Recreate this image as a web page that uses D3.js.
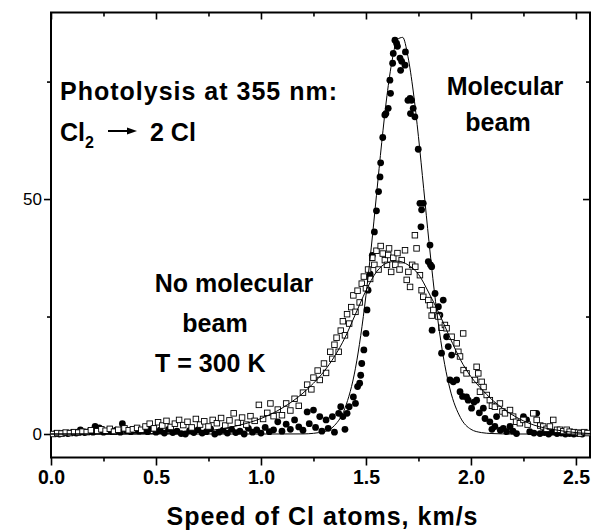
<!DOCTYPE html>
<html>
<head>
<meta charset="utf-8" />
<title>Speed of Cl atoms</title>
<script type="text/javascript" src="https://d3js.org/d3.v7.min.js"></script>
<style type="text/css">
    body { margin: 0; background: #fff; }
    text { font-family: "Liberation Sans", Arial, sans-serif; fill: #000; }
    .note { font-size: 25px; font-weight: bold; }
</style>
</head>
<body>
<svg width="597" height="531"></svg>
<script>
    var w = 597; // width
    var h = 531; // height
    var margin = {top: 12.5, right: 7, bottom: 73.5, left: 51};

    // molecular beam data (filled circles): speed km/s, signal
    var molX = [0.02,0.04,0.06,0.08,0.10,0.12,0.14,0.16,0.18,0.20,0.21,0.23,0.25,0.27,0.29,0.31,0.33,0.34,0.36,0.38,0.40,0.42,0.44,0.46,
        0.48,0.50,0.52,0.54,0.56,0.58,0.60,0.62,0.64,0.66,0.68,0.70,0.72,0.74,0.76,0.78,0.80,0.82,0.84,0.86,0.88,0.90,0.92,0.94,0.96,0.98,
        1.00,1.02,1.04,1.06,1.08,1.10,1.12,1.14,1.16,1.18,1.20,1.22,1.23,1.25,1.26,1.28,1.29,1.31,1.32,1.34,1.35,1.37,1.38,1.39,1.40,1.41,
        1.42,1.44,1.45,1.46,1.47,1.475,1.48,1.49,1.50,1.505,1.51,1.52,1.53,1.54,1.55,1.56,1.567,1.57,1.58,1.59,1.595,1.606,1.614,1.617,
        1.627,1.63,1.638,1.646,1.65,1.662,1.665,1.67,1.686,1.688,1.70,1.71,1.712,1.717,1.725,1.733,1.749,1.757,1.762,1.765,1.773,1.797,
        1.805,1.807,1.813,1.815,1.829,1.845,1.852,1.86,1.868,1.884,1.892,1.90,1.908,1.916,1.932,1.948,1.96,1.979,1.987,2.003,2.015,2.027,
        2.04,2.059,2.067,2.09,2.10,2.114,2.122,2.14,2.154,2.17,2.186,2.20,2.217,2.25,2.265,2.28,2.30,2.313,2.329,2.35,2.37,2.39,2.41,2.43,
        2.45,2.47,2.49,2.51,2.53];
    var molY = [0.1,0.0,0.2,0.1,0.3,0.2,0.9,0.3,0.5,0.4,1.6,1.3,0.4,0.6,0.5,0.8,0.4,2.2,0.7,0.5,0.9,0.6,0.8,0.5,
        1.2,0.4,0.8,0.2,1.0,0.3,0.6,0.1,0.0,0.7,0.3,0.9,0.2,0.5,1.1,0.0,0.4,0.8,0.2,1.0,0.3,0.6,0.0,1.2,0.4,0.9,
        0.2,1.4,0.5,0.9,2.6,0.6,2.1,1.0,3.0,1.5,0.8,4.7,2.2,5.1,1.4,3.7,0.6,3.0,1.2,3.7,0.4,4.4,5.8,3.7,1.0,4.4,
        5.8,7.9,6.5,10.1,10.8,12.5,15,17.9,21.4,26.4,30.6,34,38,43,47.5,51.6,54.7,57.7,63.1,67.9,68.2,69.3,75.3,72.5,
        78.9,81,83.8,83.1,82.5,80,77.4,79.3,78.5,81.3,71,71.4,68.2,71,69.3,67.5,60.6,49.1,44.1,47.7,49.1,36.7,
        40.2,36,35.6,22.1,29.9,27.1,25.3,17.2,28.5,20.7,18.6,11.5,16.8,11.1,11.5,9.0,8.0,7.9,7.2,5.5,6.8,7.2,
        4.5,5.5,3.3,2.6,1.0,1.6,3.7,0.8,1.2,0.5,1.6,0.6,0.1,3.7,3.0,0.5,0.2,4.4,0.1,0.3,0.0,0.4,0.1,0.2,
        0.0,0.1,0.0,0.1,0.0];

    // no molecular beam, T = 300 K (open squares)
    var thermX = [0.01,0.03,0.05,0.07,0.09,0.11,0.13,0.15,0.17,0.19,0.22,0.24,0.26,0.28,0.30,0.32,0.35,0.37,0.39,0.41,0.43,
        0.45,0.47,0.49,0.51,0.53,0.55,0.57,0.59,0.61,0.63,0.65,0.67,0.69,0.71,0.73,0.75,0.77,0.79,0.81,0.83,0.85,0.87,0.89,0.91,
        0.93,0.95,0.97,0.99,1.01,1.03,1.045,1.06,1.08,1.10,1.12,1.14,1.16,1.18,1.20,1.22,1.24,1.25,1.27,1.28,1.30,1.31,1.33,1.34,
        1.35,1.36,1.37,1.38,1.39,1.40,1.41,1.42,1.43,1.44,1.45,1.46,1.47,1.48,1.49,1.50,1.51,1.52,1.53,1.54,1.55,1.56,1.57,1.58,
        1.59,1.60,1.606,1.61,1.62,1.63,1.64,1.65,1.66,1.67,1.686,1.694,1.702,1.71,1.72,1.733,1.735,1.741,1.757,1.765,1.773,1.797,
        1.805,1.813,1.821,1.845,1.86,1.876,1.884,1.908,1.932,1.94,1.948,1.963,1.965,1.979,2.019,2.027,2.035,2.043,2.051,2.06,2.075,
        2.09,2.10,2.114,2.138,2.15,2.162,2.186,2.201,2.215,2.233,2.25,2.27,2.297,2.313,2.33,2.344,2.36,2.376,2.392,2.41,2.424,2.44,
        2.456,2.47,2.49,2.51,2.52,2.54,2.555];
    var thermY = [0.0,0.2,0.1,0.3,0.2,0.4,0.3,0.5,0.4,0.8,0.6,1.0,0.7,1.1,0.5,0.9,1.2,0.8,1.0,1.3,0.9,
        1.6,2.2,1.2,2.5,1.8,2.8,1.5,2.2,3.0,1.9,2.6,1.4,3.2,2.0,2.7,1.6,3.0,2.3,3.4,1.8,2.9,4.4,2.4,3.5,
        2.0,3.8,2.8,6.2,3.2,4.5,6.5,3.8,5.2,4.0,6.5,5.0,7.5,6.0,8.8,10.5,9.5,12,13.5,11.5,15,13,17.5,16,
        19,20.5,17.5,22,24,21,25.5,23.5,27,29.5,26,30.5,28,32,33.5,31,35,33,37.5,36,39,35,40,38.4,
        37,36,38.1,39.5,34.5,37.5,36,38.5,35,37,39.1,32.8,34.5,31.3,36,42.3,35.6,39.5,33.8,30.6,29.2,28.5,
        27.4,25.2,26.4,25,22.6,23.2,22.5,20.7,19.3,17.5,16.5,21.4,13.6,12.9,11.5,14.3,12.9,9.0,11.1,10.0,8.3,
        7.2,6.0,5.8,6.5,4.8,4.4,5.1,3.7,2.6,2.3,3.0,2.0,4.4,3.0,1.8,1.6,1.1,1.6,3.0,0.9,0.9,0.6,
        0.9,0.5,0.4,0.3,0.1,0.4,0.2];

    // fitted curves
    var molFitX = [0.0,0.5,1.0,1.2,1.3,1.35,1.4,1.45,1.5,1.525,1.55,1.575,1.6,1.625,1.65,1.675,1.7,1.725,1.75,1.775,1.8,1.825,1.85,1.875,1.9,1.95,2.0,2.05,2.1,2.2,2.57];
    var molFitY = [0,0,0,0.02,0.5,1.8,5.5,14,29.5,39.6,50.8,62,72,79.6,84,84.4,80.3,73,63.3,52.2,41,30.6,21.8,14.8,9.6,3.5,1.0,0.3,0.1,0,0];
    var thermFitX = [0.0,0.3,0.5,0.6,0.7,0.8,0.9,1.0,1.1,1.2,1.25,1.3,1.35,1.4,1.45,1.5,1.55,1.6,1.65,1.7,1.75,1.8,1.85,1.9,1.95,2.0,2.05,2.1,2.15,2.2,2.25,2.3,2.4,2.5,2.57];
    var thermFitY = [0,0,0.1,0.2,0.5,1.0,1.9,3.3,5.5,8.7,10.8,13.3,16.5,20.5,25.5,30.5,34.5,36.4,36.8,36,34,30,25.5,20.5,15.8,12.2,9.6,7.3,5.5,4,2.8,1.9,0.9,0.3,0.1];

    var xTicks = [0, 0.5, 1.0, 1.5, 2.0, 2.5];
    var yTicks = [0, 50];

    var svg = d3.select("svg");
    svg.attr("width", w).attr("height", h);

    var x = d3.scaleLinear().domain([0, 2.567]).range([margin.left, w - margin.right]);
    var y = d3.scaleLinear().domain([-5, 89.7]).range([h - margin.bottom, margin.top]);

    var x0 = margin.left, x1 = w - margin.right, y0 = h - margin.bottom, y1 = margin.top;

    // minor ticks
    var xMinor = d3.range(0.25, 2.56, 0.5);
    var yMinor = [25, 75];

    function styleAxis(g) {
        g.select(".domain").remove();
        g.selectAll(".tick line").attr("stroke", "#000").attr("stroke-width", 1.6);
    }

    // bottom axis: labelled, ticks out
    svg.append("g")
        .attr("transform", "translate(0," + y0 + ")")
        .call(d3.axisBottom(x).tickValues(xTicks).tickSize(8).tickPadding(5).tickFormat(d3.format(".1f")))
        .call(styleAxis)
        .selectAll("text").style("font-size", "19.5px").style("font-weight", "bold")
        .style("font-family", "Liberation Sans, Arial, sans-serif").attr("fill", "#000");
    svg.append("g")
        .attr("transform", "translate(0," + y0 + ")")
        .call(d3.axisBottom(x).tickValues(xMinor).tickSize(4).tickFormat(""))
        .call(styleAxis);

    // top axis: ticks in
    svg.append("g")
        .attr("transform", "translate(0," + y1 + ")")
        .call(d3.axisBottom(x).tickValues(xTicks).tickSize(7).tickFormat(""))
        .call(styleAxis);
    svg.append("g")
        .attr("transform", "translate(0," + y1 + ")")
        .call(d3.axisBottom(x).tickValues(xMinor).tickSize(4).tickFormat(""))
        .call(styleAxis);

    // left axis: ticks out
    svg.append("g")
        .attr("transform", "translate(" + x0 + ",0)")
        .call(d3.axisLeft(y).tickValues(yTicks).tickSize(7).tickPadding(2))
        .call(styleAxis)
        .selectAll("text").style("font-size", "17px")
        .style("font-family", "Liberation Sans, Arial, sans-serif").attr("fill", "#000");
    svg.append("g")
        .attr("transform", "translate(" + x0 + ",0)")
        .call(d3.axisLeft(y).tickValues(yMinor).tickSize(4).tickFormat(""))
        .call(styleAxis);

    // right axis: ticks in
    svg.append("g")
        .attr("transform", "translate(" + x1 + ",0)")
        .call(d3.axisLeft(y).tickValues(yTicks).tickSize(7).tickFormat(""))
        .call(styleAxis);
    svg.append("g")
        .attr("transform", "translate(" + x1 + ",0)")
        .call(d3.axisLeft(y).tickValues(yMinor).tickSize(4).tickFormat(""))
        .call(styleAxis);

    // frame
    svg.append("rect")
        .attr("x", x0).attr("y", y1)
        .attr("width", x1 - x0).attr("height", y0 - y1)
        .attr("fill", "none").attr("stroke", "#000").attr("stroke-width", 2);

    var plot = svg.append("g");

    // filled circles
    plot.selectAll("circle.mol")
        .data(molX)
        .enter()
        .append("circle")
        .attr("class", "mol")
        .attr("cx", d => x(d))
        .attr("cy", (d, i) => y(molY[i]))
        .attr("r", 3.4)
        .attr("fill", "#000");

    // open squares
    var s = 5.5;
    plot.selectAll("rect.therm")
        .data(thermX)
        .enter()
        .append("rect")
        .attr("class", "therm")
        .attr("x", d => x(d) - s / 2)
        .attr("y", (d, i) => y(thermY[i]) - s / 2)
        .attr("width", s).attr("height", s)
        .attr("fill", "#fff")
        .attr("stroke", "#000")
        .attr("stroke-width", 0.9);

    // fit lines
    var line = d3.line()
        .x(d => x(d[0]))
        .y(d => y(d[1]))
        .curve(d3.curveMonotoneX);

    plot.append("path")
        .attr("d", line(molFitX.map((v, i) => [v, molFitY[i]])))
        .attr("fill", "none").attr("stroke", "#000").attr("stroke-width", 1);
    plot.append("path")
        .attr("d", line(thermFitX.map((v, i) => [v, thermFitY[i]])))
        .attr("fill", "none").attr("stroke", "#000").attr("stroke-width", 1);

    // annotations
    svg.append("text").attr("class", "note").attr("x", 60).attr("y", 100)
        .style("letter-spacing", "1px").text("Photolysis at 355 nm:");

    var eq = svg.append("text").attr("class", "note").attr("x", 60).attr("y", 141);
    eq.append("tspan").text("Cl");
    eq.append("tspan").attr("dy", 7).style("font-size", "16px").text("2");
    eq.append("tspan").attr("x", 150).attr("y", 141).text("2 Cl");
    svg.append("line").attr("x1", 108).attr("x2", 130).attr("y1", 131).attr("y2", 131)
        .attr("stroke", "#000").attr("stroke-width", 2);
    svg.append("path").attr("d", "M137,131 L127,127.5 L127,134.5 Z").attr("fill", "#000");

    svg.append("text").attr("class", "note").attr("x", 505).attr("y", 95).attr("text-anchor", "middle").text("Molecular");
    svg.append("text").attr("class", "note").attr("x", 498).attr("y", 131).attr("text-anchor", "middle").text("beam");

    svg.append("text").attr("class", "note").attr("x", 234).attr("y", 292).attr("text-anchor", "middle").text("No molecular");
    svg.append("text").attr("class", "note").attr("x", 215).attr("y", 332).attr("text-anchor", "middle").text("beam");
    svg.append("text").attr("class", "note").attr("x", 155).attr("y", 372).text("T = 300 K");

    // x axis title
    svg.append("text")
        .attr("x", (x0 + x1) / 2 + 2)
        .attr("y", 525)
        .attr("text-anchor", "middle")
        .style("font-size", "25px").style("font-weight", "bold").style("letter-spacing", "1px")
        .text("Speed of Cl atoms, km/s");
</script>
</body>
</html>
